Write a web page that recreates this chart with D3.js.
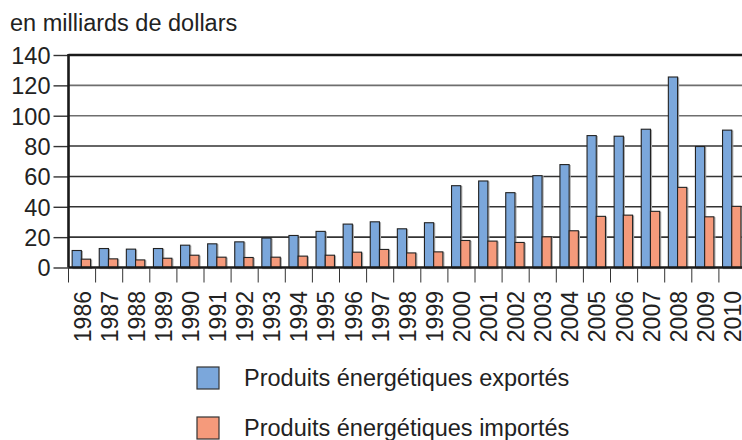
<!DOCTYPE html>
<html>
<head>
<meta charset="utf-8">
<script src="https://cdn.jsdelivr.net/npm/d3@7"></script>
<style>
	body { margin: 0; background: #fff; }
	svg { display: block; font-family: "Liberation Sans", Arial, sans-serif; }
</style>
</head>
<body>
<div id="chart"></div>
<script>
	var years = ["1986", "1987", "1988", "1989", "1990", "1991", "1992", "1993", "1994", "1995", "1996", "1997", "1998",
		"1999", "2000", "2001", "2002", "2003", "2004", "2005", "2006", "2007", "2008", "2009", "2010"];
	var exportes = [11.2, 12.5, 12.1, 12.5, 14.7, 15.6, 16.9, 19.4, 21.1, 23.8, 28.6, 30.1, 25.5,
		29.5, 53.9, 57.0, 49.3, 60.5, 67.8, 86.9, 86.5, 91.1, 125.5, 79.7, 90.5];
	var importes = [5.5, 5.7, 5.0, 6.1, 8.1, 6.8, 6.6, 6.8, 7.5, 8.1, 10.1, 11.9, 9.6,
		10.3, 17.8, 17.4, 16.5, 20.2, 24.2, 33.7, 34.5, 37.0, 52.8, 33.4, 40.3];
	var yTicks = [0, 20, 40, 60, 80, 100, 120, 140];
	var seriesNames = ["Produits énergétiques exportés", "Produits énergétiques importés"];
	var seriesColors = ["#7ba7db", "#f59a7b"];

	var width = 742,
		height = 440,
		margin = { top: 55, left: 68.5, bottom: 173 }; // plot runs past the right edge, like the source

	var data = years.map((y, i) => {
		return { year: y, values: [exportes[i], importes[i]] };
	});

	var x0 = d3.scaleBand()
		.domain(years)
		.range([margin.left, 746]);

	var x1 = d3.scaleBand()
		.domain([0, 1])
		.range([0, x0.bandwidth()])
		.paddingOuter(0.47)
		.align(0.42);

	var y = d3.scaleLinear()
		.domain([0, 140])
		.range([height - margin.bottom + 0.5, margin.top]);

	var svg = d3.select("#chart")
		.append("svg")
		.attr("width", width)
		.attr("height", height);

	svg.append("text")
		.attr("x", 10)
		.attr("y", 31)
		.style("font-size", "23.5px")
		.attr("fill", "#222")
		.text("en milliards de dollars");

	// horizontal grid
	svg.append("g")
		.selectAll("line")
		.data(yTicks.filter(t => t > 0 && t < 140))
		.enter()
		.append("line")
		.attr("x1", margin.left)
		.attr("x2", width)
		.attr("y1", d => y(d))
		.attr("y2", d => y(d))
		.attr("stroke", d => d >= 100 ? "#6e6e6e" : "#333")
		.attr("stroke-width", 1.6);

	svg.append("line")
		.attr("x1", margin.left)
		.attr("x2", width)
		.attr("y1", y(140))
		.attr("y2", y(140))
		.attr("stroke", "#1a1a1a")
		.attr("stroke-width", 2.4);

	// y axis
	var yAxis = d3.axisLeft(y)
		.tickValues(yTicks)
		.tickSize(15)
		.tickSizeOuter(0)
		.tickPadding(3);

	var gy = svg.append("g")
		.attr("transform", `translate(${margin.left},0)`)
		.call(yAxis);
	gy.select(".domain").remove();
	gy.selectAll(".tick line")
		.attr("stroke", "#333")
		.attr("stroke-width", 1.4);
	gy.selectAll(".tick text")
		.style("font-size", "23.5px")
		.attr("fill", "#222")
		.attr("dy", "0.36em");

	// bars
	var group = svg.append("g")
		.selectAll(".year")
		.data(data)
		.enter()
		.append("g")
		.attr("class", "year")
		.attr("transform", d => `translate(${x0(d.year)},0)`);

	// soft grey shadow under each bar
	group.selectAll(".shadow")
		.data(d => d.values)
		.enter()
		.append("rect")
		.attr("x", (d, i) => x1(i) + 1)
		.attr("y", d => y(d) + 1)
		.attr("width", x1.bandwidth())
		.attr("height", d => y(0) - y(d))
		.attr("fill", "none")
		.attr("stroke", "#aaa")
		.attr("stroke-width", 1.2);

	group.selectAll(".bar")
		.data(d => d.values)
		.enter()
		.append("rect")
		.attr("class", "bar")
		.attr("x", (d, i) => x1(i))
		.attr("y", d => y(d))
		.attr("width", x1.bandwidth())
		.attr("height", d => y(0) - y(d))
		.attr("fill", (d, i) => seriesColors[i])
		.attr("stroke", "#222")
		.attr("stroke-width", 1.1);

	// left axis and baseline
	svg.append("line")
		.attr("x1", margin.left)
		.attr("x2", margin.left)
		.attr("y1", y(140) - 1)
		.attr("y2", y(0))
		.attr("stroke", "#1a1a1a")
		.attr("stroke-width", 2.6);

	svg.append("line")
		.attr("x1", margin.left)
		.attr("x2", width)
		.attr("y1", y(0))
		.attr("y2", y(0))
		.attr("stroke", "#1a1a1a")
		.attr("stroke-width", 2.6);

	// year separators under the axis
	svg.append("g")
		.selectAll("line")
		.data(years)
		.enter()
		.append("line")
		.attr("x1", d => x0(d))
		.attr("x2", d => x0(d))
		.attr("y1", y(0))
		.attr("y2", y(0) + 15)
		.attr("stroke", "#333")
		.attr("stroke-width", 1);

	svg.append("g")
		.selectAll("text")
		.data(years)
		.enter()
		.append("text")
		.attr("transform", d => `translate(${x0(d) + x0.bandwidth() / 2 + 8.5},291) rotate(-90)`)
		.attr("text-anchor", "end")
		.style("font-size", "23px")
		.attr("fill", "#222")
		.text(d => d);

	// legend
	var legend = svg.append("g")
		.selectAll(".legend")
		.data(seriesNames)
		.enter()
		.append("g")
		.attr("class", "legend")
		.attr("transform", (d, i) => `translate(197,${367 + i * 50})`);

	legend.append("rect")
		.attr("width", 22)
		.attr("height", 22)
		.attr("fill", (d, i) => seriesColors[i])
		.attr("stroke", "#333")
		.attr("stroke-width", 1.2);

	legend.append("text")
		.attr("x", 47)
		.attr("y", 19)
		.style("font-size", "23.5px")
		.attr("fill", "#222")
		.text(d => d);
</script>
</body>
</html>
